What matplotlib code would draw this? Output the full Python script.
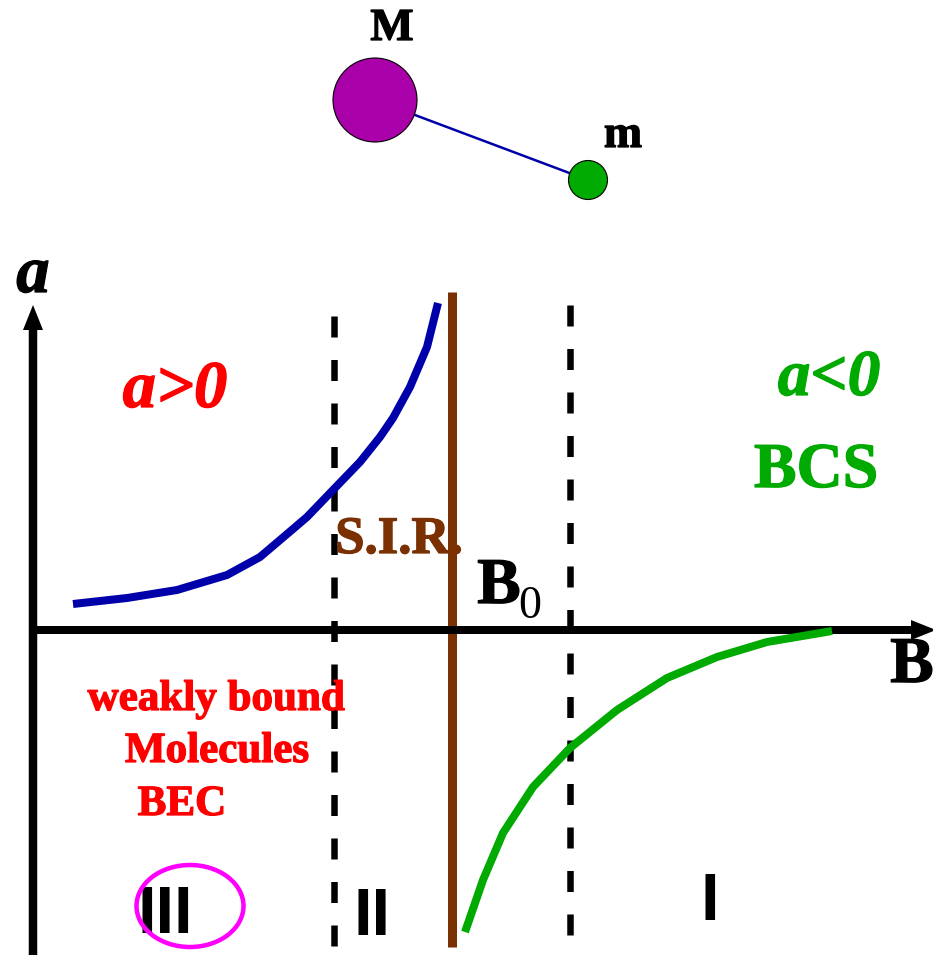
import matplotlib.pyplot as plt
import matplotlib.patheffects as pe
from matplotlib.patches import Circle, Ellipse

plt.rcParams["lines.scale_dashes"] = False

W, H = 933, 955
PX = 72 / 100  # points per pixel at dpi=100

# curves (pixel coords, y down)
blue_x = [73, 127, 177, 227, 260, 293, 307, 333, 360, 380, 393, 410, 427, 438]
blue_y = [604, 598, 590, 575, 557, 529, 517, 490, 462, 437, 418, 387, 347, 303]
green_x = [465, 483, 503, 533, 570, 617, 667, 717, 767, 832]
green_y = [932, 880, 833, 787, 748, 710, 678, 657, 642, 631]

# vertical markers: x, top, bottom
dashed_lines = [(334, 316, 955), (570, 305, 940)]
resonance = (452, 292, 947)

origin = (33, 630)
x_tip = 936
y_tip = 305

fig = plt.figure(figsize=(W / 100, H / 100), dpi=100)
ax = fig.add_axes([0, 0, 1, 1])
ax.set_xlim(0, W)
ax.set_ylim(H, 0)
ax.axis("off")

serif = "Liberation Serif"
sans = "Liberation Sans"


def label(x, y, s, size, color="k", italic=False, bold=True, fam=serif, z=5):
    # the reference type is a bit heavier than Liberation bold, so add a thin stroke
    t = ax.text(x, y, s, family=fam, weight="bold" if bold else "normal",
                style="italic" if italic else "normal", fontsize=size, color=color,
                ha="center", va="baseline", zorder=z)
    if bold:
        t.set_path_effects([pe.withStroke(linewidth=0.9, foreground=color)])
    return t


# molecule sketch
ax.plot([375, 588], [100, 180], color="#0000AA", lw=2.5 * PX, zorder=1)
ax.add_patch(Circle((375, 100), 42, fc="#AA00AA", ec="k", lw=0.8, zorder=2))
ax.add_patch(Circle((588, 180), 19.5, fc="#00AA00", ec="k", lw=0.8, zorder=2))
label(392, 40, "M", 33)
label(623, 147, "m", 33)

# axes with arrows
ax.arrow(origin[0], H, 0, y_tip - H, width=8.5, head_width=20, head_length=25,
         length_includes_head=True, color="k", lw=0, zorder=3)
ax.arrow(origin[0], origin[1], x_tip - origin[0], 0, width=8, head_width=20, head_length=25,
         length_includes_head=True, color="k", lw=0, zorder=3)

# dashed region borders
for x, top, bot in dashed_lines:
    ax.plot([x, x], [top, bot], color="k", lw=6.5 * PX, dashes=(21 * PX, 22.5 * PX),
            solid_capstyle="butt", dash_capstyle="butt", zorder=2)

# resonance position
ax.plot([resonance[0]] * 2, resonance[1:], color="#7A3000", lw=9 * PX,
        solid_capstyle="butt", zorder=2)

ax.plot(blue_x, blue_y, color="#0000AA", lw=8 * PX, solid_capstyle="butt",
        solid_joinstyle="round", zorder=4)
ax.plot(green_x, green_y, color="#00AA00", lw=8 * PX, solid_capstyle="butt",
        solid_joinstyle="round", zorder=4)

ax.add_patch(Ellipse((190, 906), 107, 82, fill=False, ec="#FF00FF", lw=4.5 * PX, zorder=4))

# labels
label(33, 292, "a", 48, italic=True)
label(912, 682, "B", 47)
label(499, 603, "B", 47)
label(530, 618, "0", 33, bold=False)
label(175, 407, "a>0", 48, color="#FF0000", italic=True)
label(829, 395, "a<0", 47, color="#00AA00", italic=True)
label(816, 487, "BCS", 46, color="#00AA00")
label(399, 553, "S.I.R.", 38, color="#7A3000")
label(216, 710, "weakly bound", 31, color="#FF0000")
label(217, 762, "Molecules", 31, color="#FF0000")
label(182, 815, "BEC", 31, color="#FF0000")

# regime numbers
ax.text(710, 920, "I", family=sans, weight="bold", fontsize=48, ha="center", va="baseline")
ax.text(372, 935, "II", family=sans, weight="bold", fontsize=48, ha="center", va="baseline")
ax.text(165, 933, "III", family=sans, weight="bold", fontsize=48, ha="center", va="baseline")

fig.savefig("out.png", dpi=100)
